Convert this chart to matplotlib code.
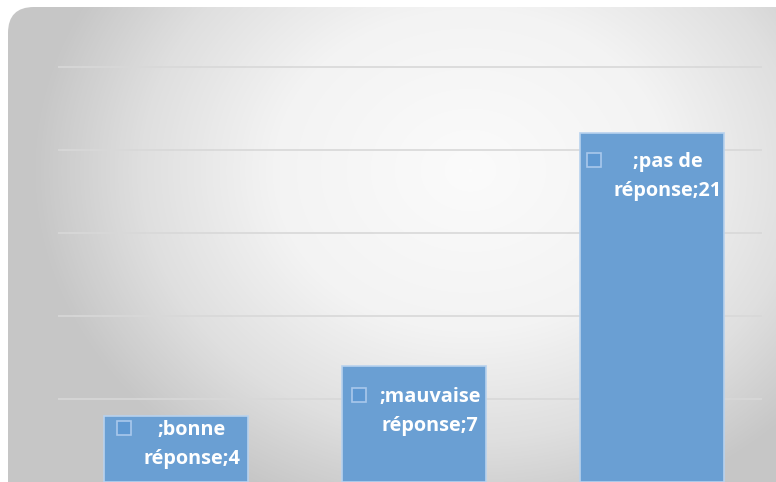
import numpy as np
import matplotlib.pyplot as plt
import matplotlib.transforms as mtransforms
from matplotlib.patches import FancyBboxPatch
from matplotlib.colors import LinearSegmentedColormap

# Data
categories = ['bonne réponse', 'mauvaise réponse', 'pas de réponse']
values = [4, 7, 21]
labels = [';bonne\nréponse;4', ';mauvaise\nréponse;7', ';pas de\nréponse;21']

# Style
bar_color = '#6a9fd3'
edge_color = '#b8d2ee'
key_color = '#5e98d2'
label_pad_px = [15, 32, 30]  # distance from bar top to centre of first text line

W, H = 776, 482
fig = plt.figure(figsize=(W / 100, H / 100), dpi=100)
fig.patch.set_facecolor('white')

# Background: rounded panel with a radial grey gradient
bg = fig.add_axes([0, 0, 1, 1])
bg.set_xlim(0, W)
bg.set_ylim(H, 0)
bg.axis('off')
yy, xx = np.mgrid[0:H, 0:W]
r = np.sqrt(((xx - 470) / 440.0) ** 2 + ((yy - 170) / 360.0) ** 2)
r = np.clip(r, 0, 1)
cmap = LinearSegmentedColormap.from_list(
    'bg', [(0, '#fbfbfb'), (0.45, '#f3f3f3'), (0.75, '#dfdfdf'), (1, '#c6c6c6')])
img = bg.imshow(r, cmap=cmap, extent=(0, W, H, 0), vmin=0, vmax=1, interpolation='bilinear')
panel = FancyBboxPatch((8, 7), W - 8 + 30, H - 7 + 30,
                       boxstyle='round,pad=0,rounding_size=26',
                       facecolor='none', edgecolor='none', transform=bg.transData)
bg.add_patch(panel)
img.set_clip_path(panel)

# Plot area
x0, x1 = 58, 762
ax = fig.add_axes([x0 / W, 0, (x1 - x0) / W, (H - 7) / H])
ax.patch.set_alpha(0)
step = 238.0
ax.set_xlim(-(176 - x0) / step, 2 + (x1 - 652) / step)
px_per_unit = 16.6
ax.set_ylim(0, (H - 7) / px_per_unit)

for y in range(5, 30, 5):
    ax.axhline(y, color='#d8d8d8', lw=1.2, zorder=1)

x = np.arange(len(values))
ax.bar(x, values, width=144 / step, color=bar_color,
       edgecolor=edge_color, linewidth=1.2, zorder=2)

ax.set_xticks([])
ax.set_yticks([])
for s in ax.spines.values():
    s.set_visible(False)

# Data labels with a legend key square in front
font = dict(family=['Open Sans', 'DejaVu Sans'], weight='bold', size=14.3, color='white')
pt = 72 / 100  # points per pixel
fig.canvas.draw()
for xi, v, lab, pad in zip(x, values, labels, label_pad_px):
    t = ax.annotate(lab, xy=(xi, v), xytext=(16 * pt, -(pad - 11) * pt),
                    textcoords='offset points', ha='center', va='top',
                    linespacing=1.6, zorder=3, **font)
    width_px = t.get_window_extent(fig.canvas.get_renderer()).width
    shift = mtransforms.ScaledTranslation((16 - width_px / 2 - 20) / 100,
                                          -(pad - 3) / 100, fig.dpi_scale_trans)
    ax.plot([xi], [v], marker='s', markersize=10, markerfacecolor=key_color,
            markeredgecolor='#a9c8ec', markeredgewidth=1.2, zorder=3,
            transform=ax.transData + shift)

fig.savefig('out.png', dpi=100)
